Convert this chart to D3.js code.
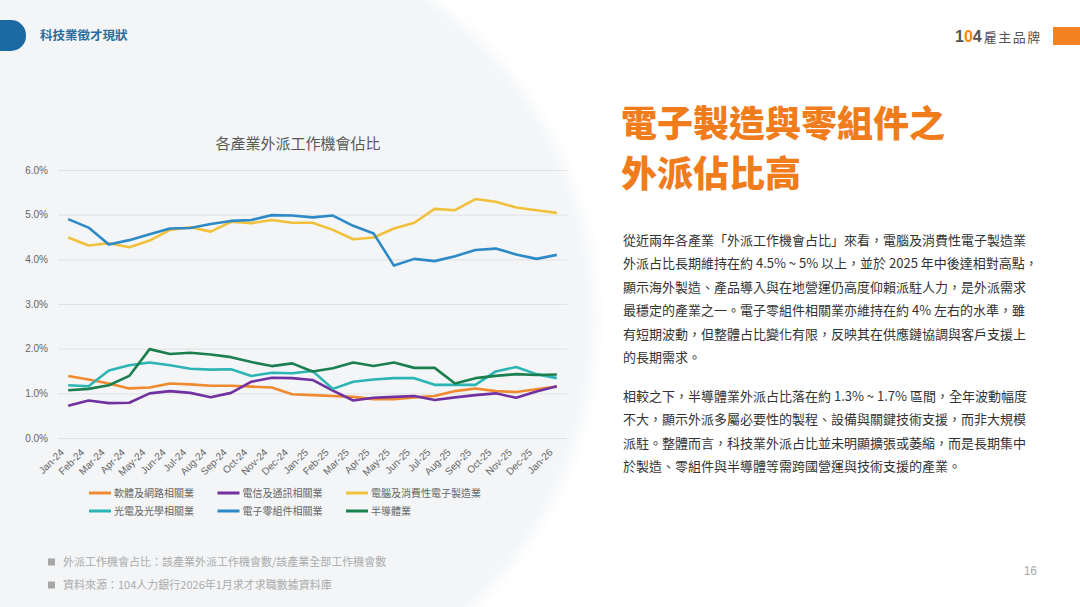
<!DOCTYPE html>
<html lang="zh-Hant-TW">
<head>
<meta charset="utf-8">
<script src="https://cdn.jsdelivr.net/npm/d3@7"></script>
<style>
  html, body { margin: 0; padding: 0; background: #fff; }
  svg { display: block; font-family: "Noto Sans CJK TC", "Noto Sans", sans-serif; }
</style>
</head>
<body>
<script>
////////////////////
//     DATA      ///
////////////////////

var months = ["Jan-24","Feb-24","Mar-24","Apr-24","May-24","Jun-24","Jul-24","Aug-24","Sep-24","Oct-24","Nov-24","Dec-24",
              "Jan-25","Feb-25","Mar-25","Apr-25","May-25","Jun-25","Jul-25","Aug-25","Sep-25","Oct-25","Nov-25","Dec-25","Jan-26"];

var yTicks = [0, 1, 2, 3, 4, 5, 6];

//values in percent
var software   = [1.39,1.31,1.22,1.11,1.13,1.22,1.20,1.17,1.17,1.15,1.13,0.98,0.96,0.94,0.92,0.87,0.87,0.91,0.94,1.05,1.11,1.05,1.03,1.09,1.15];
var telecom    = [0.72,0.84,0.78,0.79,1.00,1.05,1.01,0.91,1.01,1.26,1.35,1.34,1.30,1.06,0.84,0.90,0.92,0.94,0.85,0.91,0.96,1.00,0.90,1.04,1.16];
var computer   = [4.49,4.31,4.36,4.27,4.42,4.66,4.72,4.62,4.84,4.81,4.88,4.82,4.82,4.66,4.45,4.49,4.69,4.82,5.13,5.10,5.35,5.29,5.16,5.10,5.04];
var optics     = [1.18,1.16,1.51,1.63,1.69,1.63,1.55,1.53,1.54,1.39,1.46,1.45,1.50,1.10,1.26,1.31,1.34,1.34,1.19,1.19,1.19,1.49,1.59,1.43,1.34];
var components = [4.90,4.71,4.33,4.43,4.56,4.69,4.70,4.79,4.86,4.88,4.99,4.98,4.94,4.98,4.75,4.58,3.86,4.01,3.96,4.07,4.21,4.24,4.11,4.01,4.10];
var semi       = [1.07,1.10,1.18,1.39,1.99,1.88,1.91,1.87,1.81,1.70,1.61,1.67,1.49,1.56,1.69,1.61,1.69,1.57,1.57,1.22,1.34,1.39,1.43,1.41,1.42];

var seriesNames = ["軟體及網路相關業", "電信及通訊相關業", "電腦及消費性電子製造業",
                   "光電及光學相關業", "電子零組件相關業", "半導體業"];
var seriesValues = [software, telecom, computer, optics, components, semi];

var para1 = [
  "從近兩年各產業「外派工作機會占比」來看，電腦及消費性電子製造業",
  "外派占比長期維持在約 4.5% ~ 5% 以上，並於 2025 年中後達相對高點，",
  "顯示海外製造、產品導入與在地營運仍高度仰賴派駐人力，是外派需求",
  "最穩定的產業之一。電子零組件相關業亦維持在約 4% 左右的水準，雖",
  "有短期波動，但整體占比變化有限，反映其在供應鏈協調與客戶支援上",
  "的長期需求。"
];
var para2 = [
  "相較之下，半導體業外派占比落在約 1.3% ~ 1.7% 區間，全年波動幅度",
  "不大，顯示外派多屬必要性的製程、設備與關鍵技術支援，而非大規模",
  "派駐。整體而言，科技業外派占比並未明顯擴張或萎縮，而是長期集中",
  "於製造、零組件與半導體等需跨國營運與技術支援的產業。"
];
var notes = [
  "外派工作機會占比：該產業外派工作機會數/該產業全部工作機會數",
  "資料來源：104人力銀行2026年1月求才求職數據資料庫"
];

////////////////////
//    OPTIONS    ///
////////////////////

var W = 1080, H = 607;
var plot = {left: 58, right: 567, top: 170, bottom: 438};
var colors = ["#ef8a2e", "#7131a1", "#f2c13b", "#2db4b4", "#2d8ac6", "#1b7f4f"];
var latin = "'Liberation Sans', Arial, 'Noto Sans CJK TC', sans-serif";

var svg = d3.select("body").append("svg")
            .attr("width", W)
            .attr("height", H);

//soft grey disc behind the chart
var defs = svg.append("defs");
defs.append("filter").attr("id", "soft")
    .attr("x", "-20%").attr("y", "-20%").attr("width", "140%").attr("height", "140%")
  .append("feGaussianBlur").attr("stdDeviation", 7);

svg.append("circle")
   .attr("cx", 200).attr("cy", 320).attr("r", 395)
   .attr("fill", "#f3f5f7")
   .attr("filter", "url(#soft)");

//header tab
svg.append("rect")
   .attr("x", -20).attr("y", 20).attr("width", 46).attr("height", 31).attr("rx", 15)
   .attr("fill", "#1c6aa3");
svg.append("text")
   .attr("x", 40).attr("y", 40)
   .text("科技業徵才現狀")
   .style("font-size", "12.5px").style("font-weight", 700).style("fill", "#2b6d9e");

//logo
var logo = svg.append("text").attr("x", 955).attr("y", 42)
              .style("font-size", "16px").style("font-weight", 700);
logo.append("tspan").text("1").style("fill", "#555").style("font-family", latin);
logo.append("tspan").text("0").style("fill", "#f28a00").style("font-family", latin);
logo.append("tspan").text("4").style("fill", "#555").style("font-family", latin);
logo.append("tspan").attr("dx", 2).text("雇主品牌")
    .style("font-size", "13px").style("font-weight", 400).style("fill", "#555").style("letter-spacing", "1.5px");
svg.append("rect")
   .attr("x", 1053).attr("y", 27).attr("width", 30).attr("height", 18)
   .attr("fill", "#f58220");

////////////////////
//     CHART     ///
////////////////////

var x = d3.scalePoint().domain(months).range([plot.left, plot.right]).padding(0.5);
var y = d3.scaleLinear().domain([0, 6]).range([plot.bottom, plot.top]);

svg.append("text")
   .attr("x", 298).attr("y", 149)
   .attr("text-anchor", "middle")
   .text("各產業外派工作機會佔比")
   .style("font-size", "15px").style("fill", "#595959");

var yAxis = svg.append("g")
               .attr("transform", "translate(" + plot.left + ",0)")
               .call(d3.axisLeft(y).tickValues(yTicks)
                       .tickSize(-(plot.right - plot.left))
                       .tickFormat(function(d) { return d3.format(".1f")(d) + "%"; }));
yAxis.select(".domain").remove();
yAxis.selectAll(".tick line").attr("stroke", "#e1e1e1").attr("stroke-width", 1);
yAxis.selectAll(".tick text")
     .attr("x", -10)
     .style("font-family", latin).style("font-size", "10px").style("fill", "#666");

var xAxis = svg.append("g")
               .attr("transform", "translate(0," + plot.bottom + ")")
               .call(d3.axisBottom(x).tickSize(0));
xAxis.select(".domain").remove();
xAxis.selectAll(".tick text")
     .attr("text-anchor", "end")
     .attr("x", 0).attr("y", 0).attr("dy", 0)
     .attr("transform", "translate(-4,15) rotate(-45)")
     .style("font-family", latin).style("font-size", "10px").style("fill", "#666");

var line = d3.line()
             .x(function(d, i) { return x(months[i]); })
             .y(function(d) { return y(d); });

svg.append("g").selectAll("path")
   .data(seriesValues)
   .enter().append("path")
   .attr("d", line)
   .attr("fill", "none")
   .attr("stroke", function(d, i) { return colors[i]; })
   .attr("stroke-width", 2.6)
   .attr("stroke-linejoin", "round");

//legend, three per row
var legend = svg.append("g").selectAll("g")
                .data(seriesNames)
                .enter().append("g")
                .attr("transform", function(d, i) {
                  return "translate(" + (89 + (i % 3) * 128.5) + "," + (493 + Math.floor(i / 3) * 18) + ")";
                });
legend.append("line")
      .attr("x1", 0).attr("x2", 22)
      .attr("stroke", function(d, i) { return colors[i]; })
      .attr("stroke-width", 3);
legend.append("text")
      .attr("x", 25).attr("dy", "0.35em")
      .text(function(d) { return d; })
      .style("font-size", "10px").style("fill", "#666");

////////////////////
//     TEXT      ///
////////////////////

var heading = svg.append("g").style("font-size", "36px").style("font-weight", 900).style("fill", "#f07c1c");
heading.append("text").attr("x", 621).attr("y", 137).text("電子製造與零組件之");
heading.append("text").attr("x", 621).attr("y", 187).text("外派佔比高");

function para(lines, top) {
  svg.append("g").selectAll("text")
     .data(lines)
     .enter().append("text")
     .attr("x", 623)
     .attr("y", function(d, i) { return top + i * 23.4; })
     .text(function(d) { return d; })
     .style("font-size", "13px").style("fill", "#333");
}
para(para1, 245);
para(para2, 401);

var noteG = svg.append("g").selectAll("g")
               .data(notes)
               .enter().append("g")
               .attr("transform", function(d, i) { return "translate(48," + (562 + i * 23) + ")"; });
noteG.append("rect").attr("x", 0).attr("y", -3.5).attr("width", 7).attr("height", 7).attr("fill", "#a6a6a6");
noteG.append("text").attr("x", 15).attr("dy", "0.35em")
     .text(function(d) { return d; })
     .style("font-size", "11px").style("fill", "#ababab");

svg.append("text")
   .attr("x", 1037).attr("y", 575)
   .attr("text-anchor", "end")
   .text("16")
   .style("font-family", latin).style("font-size", "12px").style("fill", "#aaa");
</script>
</body>
</html>
